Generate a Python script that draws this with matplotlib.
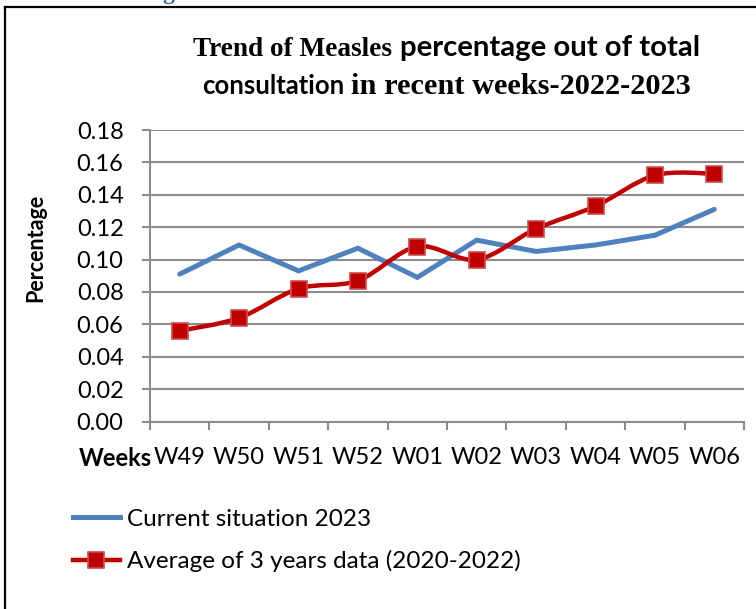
import numpy as np
import matplotlib
matplotlib.use("Agg")
import matplotlib.pyplot as plt
from matplotlib.path import Path
from matplotlib.patches import PathPatch
from matplotlib.lines import Line2D
from matplotlib.ticker import FixedLocator, NullFormatter

weeks = ["W49", "W50", "W51", "W52", "W01", "W02", "W03", "W04", "W05", "W06"]
current_2023 = [0.091, 0.109, 0.093, 0.107, 0.089, 0.112, 0.105, 0.109, 0.115, 0.131]
avg_3_years = [0.056, 0.064, 0.082, 0.087, 0.108, 0.100, 0.119, 0.133, 0.152, 0.153]
y_ticks = [0.00, 0.02, 0.04, 0.06, 0.08, 0.10, 0.12, 0.14, 0.16, 0.18]

SANS = "Lato"
SERIF = "Liberation Serif"
BLUE = "#4F81BD"
RED = "#C00000"
GRID = "#8C8C8C"


def smooth_path(xs, ys):
    """Excel-like smoothed line: cubic Bezier segments through every point."""
    pts = np.column_stack([xs, ys])
    verts = [pts[0]]
    codes = [Path.MOVETO]
    n = len(pts)
    for i in range(n - 1):
        p0 = pts[i - 1] if i > 0 else pts[i]
        p1 = pts[i]
        p2 = pts[i + 1]
        p3 = pts[i + 2] if i + 2 < n else pts[i + 1]
        c1 = p1 + (p2 - p0) / 6.0
        c2 = p2 - (p3 - p1) / 6.0
        verts += [c1, c2, p2]
        codes += [Path.CURVE4] * 3
    return Path(verts, codes)


fig = plt.figure(figsize=(7.56, 6.09), dpi=100)
ax = fig.add_axes([150 / 756, 1 - 421.5 / 609, 594 / 756, 291.5 / 609])

x = np.arange(len(weeks))
ax.plot(x, current_2023, color=BLUE, lw=3.6, solid_capstyle="round",
        solid_joinstyle="miter", zorder=3)
ax.add_patch(PathPatch(smooth_path(x, avg_3_years), fill=False,
                       edgecolor=RED, lw=3.2, capstyle="round", zorder=4))
ax.plot(x, avg_3_years, ls="none", marker="s", ms=11, mfc=RED,
        mec="#D24A4A", mew=1.2, zorder=5)

ax.set_xlim(-0.5, len(weeks) - 0.5)
ax.set_ylim(0, 0.18)
ax.set_yticks(y_ticks)
ax.set_yticklabels([f"{v:.2f}" for v in y_ticks])
ax.set_xticks(x)
ax.set_xticklabels(weeks)
ax.xaxis.set_minor_locator(FixedLocator(np.arange(-0.5, len(weeks), 1.0)))
ax.xaxis.set_minor_formatter(NullFormatter())
ax.tick_params(axis="x", which="major", length=0, pad=18,
               labelsize=17, labelfontfamily=SANS)
ax.tick_params(axis="x", which="minor", length=6, width=1.5, color=GRID,
               direction="out")
ax.tick_params(axis="y", length=6, width=1.5, color=GRID, direction="out",
               pad=13, labelsize=17, labelfontfamily=SANS)

ax.grid(axis="y", color=GRID, lw=1.5)
ax.set_axisbelow(True)
for side in ["top", "right"]:
    ax.spines[side].set_visible(False)
for side in ["left", "bottom"]:
    ax.spines[side].set_color(GRID)
    ax.spines[side].set_linewidth(1.5)

fig.text(36 / 756, 1 - 248 / 609, "Percentage", rotation=90, ha="center",
         va="center", fontsize=15.5, fontweight="bold", family=SANS)
fig.text(79 / 756, 1 - 459 / 609, "Weeks", ha="left", va="center",
         fontsize=17, fontweight="bold", family=SANS)

# legend below the axes
handles = [
    Line2D([], [], color=BLUE, lw=3.6),
    Line2D([], [], color=RED, lw=3.2, marker="s", ms=11, mfc=RED,
           mec="#D24A4A", mew=1.2),
]
fig.legend(handles, ["Current situation 2023",
                     "Average of 3 years data (2020-2022)"],
           loc="upper left", bbox_to_anchor=(63 / 756, 1 - 499 / 609),
           frameon=False, prop={"family": SANS, "size": 17.5},
           handlelength=1.95, handletextpad=0.3, labelspacing=0.85,
           borderaxespad=0)

# title with mixed fonts, as in the source; each piece is sized so that it
# spans the same width as in the original picture
renderer = fig.canvas.get_renderer()
title_lines = [
    (1 - 56 / 609, [("Trend of Measles", SERIF, 200),
                    ("percentage out of total", SANS, 300)]),
    (1 - 94 / 609, [("consultation", SANS, 142),
                    ("in recent weeks-2022-2023", SERIF, 341)]),
]
centre = 447 / 756
gap = 7 / 756
for y_pos, pieces in title_lines:
    texts, widths = [], []
    for s, f, target in pieces:
        t = fig.text(0, y_pos, s, family=f, fontsize=10, fontweight="bold",
                     va="baseline", ha="left")
        w10 = t.get_window_extent(renderer).width
        t.set_fontsize(10 * target / w10)
        texts.append(t)
        widths.append(target / 756)
    cur = centre - (sum(widths) + gap * (len(widths) - 1)) / 2
    for t, w in zip(texts, widths):
        t.set_x(cur)
        cur += w + gap

# cut-off heading above the frame
fig.text(162 / 756, 1 + 1 / 609, "g", color="#365F91", fontsize=17,
         family=SERIF, fontweight="bold", va="baseline")

# frame: left and top edges only are visible
fig.add_artist(Line2D([5 / 756, 5 / 756], [0, 1 - 6.5 / 609], color="black",
                      lw=1.6, transform=fig.transFigure))
fig.add_artist(Line2D([5 / 756, 1], [1 - 6.5 / 609, 1 - 6.5 / 609],
                      color="black", lw=1.6, transform=fig.transFigure))

fig.savefig("out.png", dpi=100)
